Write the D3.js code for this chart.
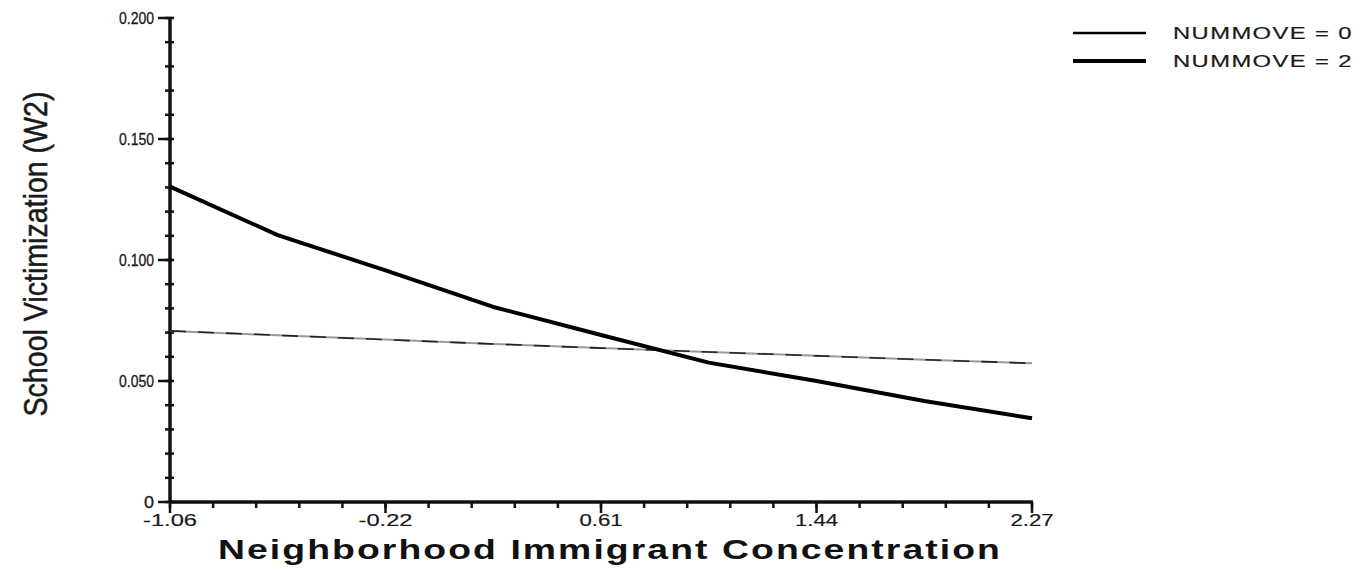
<!DOCTYPE html>
<html>
<head>
<meta charset="utf-8">
<script src="https://cdn.jsdelivr.net/npm/d3@7"></script>
<style>
  html, body { margin: 0; padding: 0; background: #fff; }
  svg { display: block; }
  text { font-family: "Liberation Sans", Arial, sans-serif; fill: #1a1a1a; }
</style>
</head>
<body>
<svg id="chart" width="1371" height="574"></svg>
<script>
// ---- data ----
const xValues = [-1.06, -0.644, -0.2275, 0.189, 0.605, 1.021, 1.438, 1.854, 2.27];
const nummove0 = [0.0707, 0.0689, 0.0671, 0.0653, 0.0636, 0.0620, 0.0604, 0.0588, 0.0573];
const nummove2 = [0.1303, 0.1103, 0.0957, 0.0806, 0.0690, 0.0576, 0.0500, 0.0417, 0.0346];
const seriesNames = ["NUMMOVE = 0", "NUMMOVE = 2"];
const xTickLabels = ["-1.06", "-0.22", "0.61", "1.44", "2.27"];
const yTickValues = [0, 0.05, 0.10, 0.15, 0.20];
const yTickLabels = ["0", "0.050", "0.100", "0.150", "0.200"];
const xTitle = "Neighborhood Immigrant Concentration";
const yTitle = "School Victimization (W2)";

(function () {
// ---- layout ----
const svg = d3.select("#chart");
const mLeft = 170, mRight = 1032, mTop = 18, mBottom = 502;
const x = d3.scaleLinear().domain([-1.06, 2.27]).range([mLeft, mRight]);
const y = d3.scaleLinear().domain([0, 0.2]).range([mBottom, mTop]);

// minor ticks: 20 intervals on x, every 0.01 on y
const xMinor = d3.range(21).map(i => -1.06 + i * (2.27 + 1.06) / 20);
const xMajor = xTickLabels.map((_, i) => -1.06 + i * (2.27 + 1.06) / 4);
const yMinor = d3.range(21).map(i => i * 0.01);

const axisColor = "#111";

// y axis
const gy = svg.append("g");
gy.append("line").attr("x1", mLeft).attr("x2", mLeft).attr("y1", mTop - 1).attr("y2", mBottom + 1)
  .attr("stroke", axisColor).attr("stroke-width", 3.5);
gy.selectAll("line.minor").data(yMinor).join("line").attr("class", "minor")
  .attr("x1", mLeft - 5).attr("x2", mLeft + 4)
  .attr("y1", d => y(d)).attr("y2", d => y(d))
  .attr("stroke", axisColor).attr("stroke-width", 2.5);
gy.selectAll("line.major").data(yTickValues).join("line").attr("class", "major")
  .attr("x1", mLeft - 12).attr("x2", mLeft + 2)
  .attr("y1", d => y(d)).attr("y2", d => y(d))
  .attr("stroke", axisColor).attr("stroke-width", 2.5);
gy.selectAll("text").data(yTickValues).join("text")
  .attr("x", 154).attr("y", d => y(d)).attr("dy", "0.36em")
  .attr("text-anchor", "end").attr("font-size", 16)
  .attr("textLength", (d, i) => yTickLabels[i].length === 1 ? 10 : 35)
  .attr("lengthAdjust", "spacingAndGlyphs")
  .style("stroke", "#1a1a1a").style("stroke-width", 0.3)
  .text((d, i) => yTickLabels[i]);

// x axis
const gx = svg.append("g");
gx.append("line").attr("x1", mLeft - 1).attr("x2", mRight + 1).attr("y1", mBottom).attr("y2", mBottom)
  .attr("stroke", axisColor).attr("stroke-width", 3.5);
gx.selectAll("line.minor").data(xMinor).join("line").attr("class", "minor")
  .attr("x1", d => x(d)).attr("x2", d => x(d))
  .attr("y1", mBottom).attr("y2", mBottom + 6)
  .attr("stroke", axisColor).attr("stroke-width", 2.5);
gx.selectAll("line.major").data(xMajor).join("line").attr("class", "major")
  .attr("x1", d => x(d)).attr("x2", d => x(d))
  .attr("y1", mBottom).attr("y2", mBottom + 11)
  .attr("stroke", axisColor).attr("stroke-width", 2.5);
gx.selectAll("text").data(xMajor).join("text")
  .attr("x", d => x(d)).attr("y", 525.5)
  .attr("text-anchor", "middle").attr("font-size", 17)
  .attr("textLength", (d, i) => xTickLabels[i].length * 10.8)
  .attr("lengthAdjust", "spacingAndGlyphs")
  .style("stroke", "#1a1a1a").style("stroke-width", 0.2)
  .text((d, i) => xTickLabels[i]);

// titles
svg.append("text").attr("x", 610).attr("y", 559).attr("text-anchor", "middle")
  .attr("font-size", 27).attr("font-weight", "bold").attr("letter-spacing", 1.5)
  .attr("textLength", 784).attr("lengthAdjust", "spacingAndGlyphs")
  .style("fill", "#111")
  .text(xTitle);
svg.append("text").attr("transform", "translate(47,254) rotate(-90)")
  .attr("text-anchor", "middle")
  .style("font-family", "'Liberation Sans Narrow', 'Arial Narrow', 'Liberation Sans', Arial, sans-serif")
  .attr("font-size", 33)
  .attr("textLength", 325).attr("lengthAdjust", "spacingAndGlyphs")
  .style("stroke", "#1a1a1a").style("stroke-width", 0.5)
  .text(yTitle);

// lines
const line = d3.line().x(d => x(d[0])).y(d => y(d[1]));
const data0 = xValues.map((v, i) => [v, nummove0[i]]);
const data2 = xValues.map((v, i) => [v, nummove2[i]]);

svg.append("path").datum(data0).attr("d", line)
  .attr("fill", "none").attr("stroke", "#999").attr("stroke-width", 2);
svg.append("path").datum(data0).attr("d", line)
  .attr("fill", "none").attr("stroke", "#222").attr("stroke-width", 1.6)
  .attr("stroke-dasharray", "16,12");
svg.append("path").datum(data2).attr("d", line)
  .attr("fill", "none").attr("stroke", "#000").attr("stroke-width", 4)
  .attr("stroke-linejoin", "round");

// legend
const legY = [33, 61];
const legW = [2.5, 4.2];
const leg = svg.append("g");
leg.selectAll("line").data(seriesNames).join("line")
  .attr("x1", 1073).attr("x2", 1146)
  .attr("y1", (d, i) => legY[i]).attr("y2", (d, i) => legY[i])
  .attr("stroke", "#000").attr("stroke-width", (d, i) => legW[i]);
leg.selectAll("text").data(seriesNames).join("text")
  .attr("x", 1173).attr("y", (d, i) => legY[i] + 6)
  .attr("font-size", 17).attr("letter-spacing", 1)
  .attr("textLength", 180).attr("lengthAdjust", "spacingAndGlyphs")
  .style("stroke", "#1a1a1a").style("stroke-width", 0.2)
  .text(d => d);
})();
</script>
</body>
</html>
